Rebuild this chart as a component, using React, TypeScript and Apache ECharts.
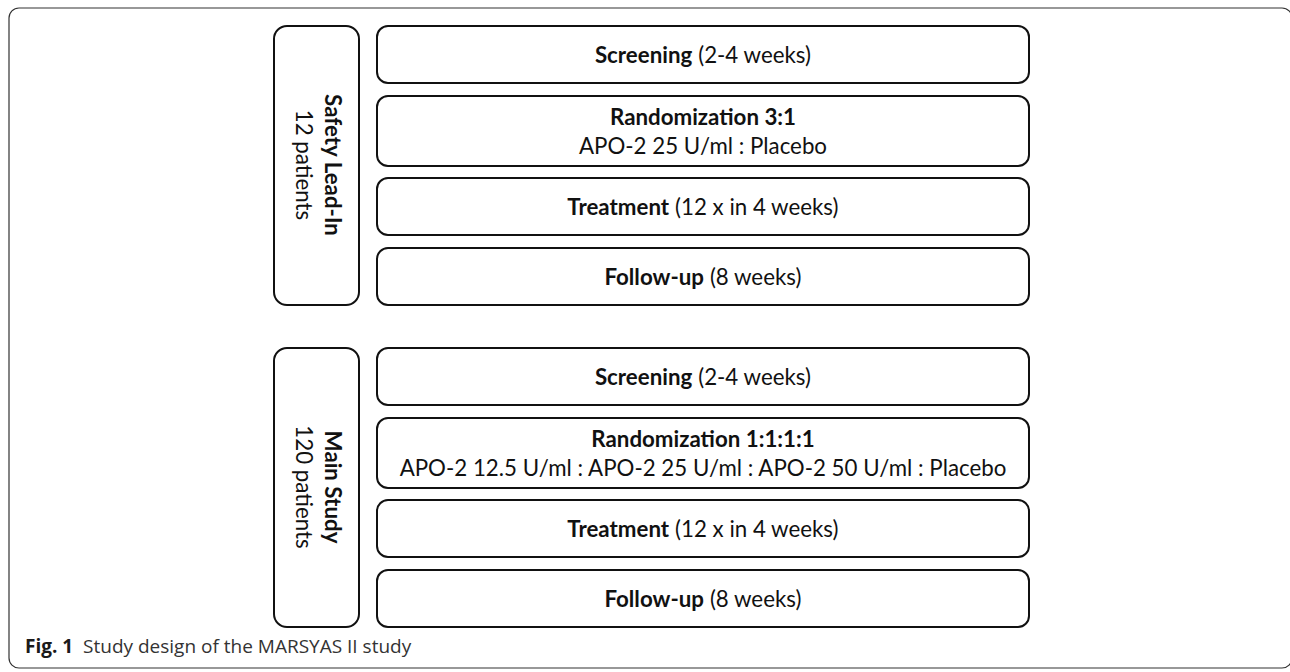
import React, { useEffect, useRef } from "react";
import * as echarts from "echarts";

// ---- Diagram content ----
const studyGroups = ["Safety Lead-In", "Main Study"];
const groupSizes = ["12 patients", "120 patients"];
const phaseTitles = [
  ["Screening", "Randomization 3:1", "Treatment", "Follow-up"],
  ["Screening", "Randomization 1:1:1:1", "Treatment", "Follow-up"],
];
const phaseNotes = ["(2-4 weeks)", "", "(12 x in 4 weeks)", "(8 weeks)"];
const randomizationArms = [
  "APO-2 25 U/ml : Placebo",
  "APO-2 12.5 U/ml : APO-2 25 U/ml : APO-2 50 U/ml : Placebo",
];
const captionLabel = "Fig. 1";
const captionText = "Study design of the MARSYAS II study";

// ---- Layout (positions only) ----
const groupTops = [26, 348];
const boxOffsets: [number, number][] = [
  [0, 57],
  [70, 140],
  [152, 209],
  [222, 279],
];
const FONT = "Lato, 'Open Sans', sans-serif";
const FS = 22.3;

export default function App() {
  const ref = useRef<HTMLDivElement>(null);
  useEffect(() => {
    document.body.style.margin = "0";
    if (!ref.current) return;
    const chart = echarts.init(ref.current, undefined, { renderer: "svg" });
    const elements: any[] = [];

    elements.push({
      type: "rect",
      shape: { x: 9, y: 8, width: 1283, height: 660, r: 10 },
      style: { fill: "#fff", stroke: "#333", lineWidth: 1.2 },
    });

    const rich = {
      b: { fontFamily: FONT, fontWeight: "bold", fontSize: FS, fill: "#111", lineHeight: 29 },
      n: { fontFamily: FONT, fontWeight: "normal", fontSize: FS, fill: "#111", lineHeight: 29 },
    };

    studyGroups.forEach((g, gi) => {
      const top = groupTops[gi];
      elements.push({
        type: "rect",
        shape: { x: 274, y: top, width: 85, height: 279, r: 13 },
        style: { fill: "#fff", stroke: "#111", lineWidth: 2 },
      });
      elements.push({
        type: "text",
        x: 318.5,
        y: top + 139,
        rotation: -Math.PI / 2,
        style: {
          text: `{b|${g}}\n{n|${groupSizes[gi]}}`,
          rich,
          align: "center",
          verticalAlign: "middle",
        },
      });
      phaseTitles[gi].forEach((t, pi) => {
        const [a, b] = boxOffsets[pi];
        const y1 = top + a;
        const h = b - a;
        elements.push({
          type: "rect",
          shape: { x: 377, y: y1, width: 652, height: h, r: 11 },
          style: { fill: "#fff", stroke: "#111", lineWidth: 2 },
        });
        let text: string;
        if (pi === 1) {
          text = `{b|${t}}\n{n|${randomizationArms[gi]}}`;
        } else {
          text = `{b|${t}}{n| ${phaseNotes[pi]}}`;
        }
        elements.push({
          type: "text",
          x: 703,
          y: y1 + h / 2,
          style: {
            text,
            rich,
            align: "center",
            verticalAlign: "middle",
          },
        });
      });
    });

    elements.push({
      type: "text",
      x: 25,
      y: 646,
      style: {
        text: `{b|${captionLabel}}{n|  ${captionText}}`,
        rich: {
          b: { fontFamily: "'Open Sans', sans-serif", fontWeight: "bold", fontSize: 19, fill: "#1a1a1a" },
          n: { fontFamily: "'Open Sans', sans-serif", fontWeight: "normal", fontSize: 19, fill: "#333" },
        },
        align: "left",
        verticalAlign: "middle",
      },
    });

    chart.setOption({ animation: false, graphic: { elements } });
    return () => chart.dispose();
  }, []);
  return <div ref={ref} style={{ width: 1290, height: 672 }} />;
}
